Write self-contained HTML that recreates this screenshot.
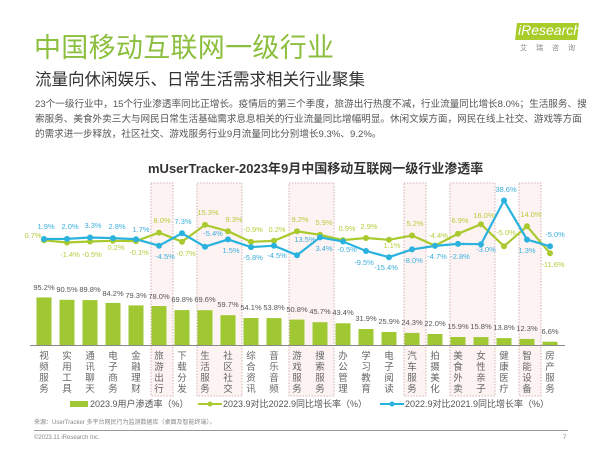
<!DOCTYPE html>
<html><head><meta charset="utf-8">
<style>
html,body{margin:0;padding:0;background:#fff;}
body{width:600px;height:449px;position:relative;overflow:hidden;font-family:"Liberation Sans","Noto Sans CJK SC",sans-serif;}
.a{position:absolute;white-space:nowrap;}
</style></head><body>
<div class="a" style="left:34px;top:26px;font-size:27px;color:#8cbf3f;letter-spacing:0.3px;">中国移动互联网一级行业</div>
<div class="a" style="left:35px;top:66px;font-size:16.5px;color:#333;">流量向休闲娱乐、日常生活需求相关行业聚集</div>
<div class="a" style="left:35px;top:97px;font-size:9.6px;color:#555;line-height:15px;">23个一级行业中，15个行业渗透率同比正增长。疫情后的第三个季度，旅游出行热度不减，行业流量同比增长8.0%；生活服务、搜<br>索服务、美食外卖三大与网民日常生活基础需求息息相关的行业流量同比增幅明显。休闲文娱方面，网民在线上社交、游戏等方面<br>的需求进一步释放，社区社交、游戏服务行业9月流量同比分别增长9.3%、9.2%。</div>
<div class="a" style="left:516px;top:23px;width:62px;height:17px;background:#a8cc2a;transform:skewX(-6deg);"></div>
<div class="a" style="left:518px;top:22px;font-size:14px;color:#fff;font-style:italic;">iResearch</div>
<div class="a" style="left:520px;top:43px;font-size:7px;color:#888;letter-spacing:9px;">艾瑞咨询</div>
<div class="a" style="left:148px;top:158px;font-size:13px;font-weight:bold;color:#333;">mUserTracker-2023年9月中国移动互联网一级行业渗透率</div>

<svg class="a" style="left:0;top:0" width="600" height="449" xmlns="http://www.w3.org/2000/svg">
<g fill="#fdf3f3" stroke="#c9a0a0" stroke-width="0.8" stroke-dasharray="1.5,1.5">
<rect x="151" y="183" width="22" height="213"/>
<rect x="197" y="183" width="45" height="213"/>
<rect x="289" y="183" width="45" height="213"/>
<rect x="404" y="183" width="22" height="213"/>
<rect x="450" y="183" width="45" height="213"/>
<rect x="519" y="183" width="22" height="213"/>
</g>
<g fill="#9fc832">
<rect x="36.5" y="297.4" width="15" height="47.6"/><rect x="59.5" y="299.8" width="15" height="45.2"/>
<rect x="82.5" y="300.1" width="15" height="44.9"/><rect x="105.5" y="302.9" width="15" height="42.1"/>
<rect x="128.5" y="305.4" width="15" height="39.6"/><rect x="151.5" y="306" width="15" height="39"/>
<rect x="174.5" y="310.1" width="15" height="34.9"/><rect x="197.5" y="310.2" width="15" height="34.8"/>
<rect x="220.5" y="315.2" width="15" height="29.8"/><rect x="243.5" y="318" width="15" height="27"/>
<rect x="266.5" y="318.1" width="15" height="26.9"/><rect x="289.5" y="319.6" width="15" height="25.4"/>
<rect x="312.5" y="322.2" width="15" height="22.8"/><rect x="335.5" y="323.3" width="15" height="21.7"/>
<rect x="358.5" y="329" width="15" height="16"/><rect x="381.5" y="332" width="15" height="13"/>
<rect x="404.5" y="332.9" width="15" height="12.1"/><rect x="427.5" y="334" width="15" height="11"/>
<rect x="450.5" y="337" width="15" height="8"/><rect x="473.5" y="337.1" width="15" height="7.9"/>
<rect x="496.5" y="338.1" width="15" height="6.9"/><rect x="519.5" y="338.9" width="15" height="6.1"/>
<rect x="542.5" y="341.7" width="15" height="3.3"/>
</g>
<line x1="30" y1="345.5" x2="565" y2="345.5" stroke="#888" stroke-width="1"/>
<g font-size="7.5" fill="#555" text-anchor="middle" font-family="Liberation Sans,sans-serif">
<text x="44" y="290">95.2%</text><text x="67" y="292">90.5%</text><text x="90" y="292">89.8%</text>
<text x="113" y="296">84.2%</text><text x="136" y="298">79.3%</text><text x="159" y="299">78.0%</text>
<text x="182" y="302">69.8%</text><text x="205" y="302">69.6%</text><text x="228" y="307">59.7%</text>
<text x="251" y="310">54.1%</text><text x="274" y="310">53.8%</text><text x="297" y="312">50.8%</text>
<text x="320" y="314">45.7%</text><text x="343" y="315">43.4%</text><text x="366" y="321">31.9%</text>
<text x="389" y="324">25.9%</text><text x="412" y="325">24.3%</text><text x="435" y="326">22.0%</text>
<text x="458" y="329">15.9%</text><text x="481" y="329">15.8%</text><text x="504" y="330">13.8%</text>
<text x="527" y="331">12.3%</text><text x="550" y="334">6.6%</text>
</g>
<polyline fill="none" stroke="#a9c92e" stroke-width="2.2" points="44,240.3 67,242.5 90,241.5 113,240.8 136,241.1 159,232.6 182,241.7 205,224.9 228,231.2 251,241.9 274,240.8 297,231.3 320,234.8 343,240.1 366,238 389,239.8 412,235.5 435,245.6 458,233.8 481,224.2 504,246.3 527,226.3 550,253.2"/>
<polyline fill="none" stroke="#2ab2de" stroke-width="2.2" points="44,239 67,238.9 90,237.5 113,238.1 136,239.2 159,245.7 182,233.3 205,246.7 228,239.4 251,247.1 274,245.7 297,255.2 320,237.4 343,241.5 366,251 389,257.2 412,249.4 435,245.9 458,243.9 481,244.2 504,200.5 527,239.6 550,246.3"/>
<g fill="#a9c92e">
<circle cx="44" cy="240.3" r="3"/><circle cx="67" cy="242.5" r="3"/><circle cx="90" cy="241.5" r="3"/><circle cx="113" cy="240.8" r="3"/><circle cx="136" cy="241.1" r="3"/><circle cx="159" cy="232.6" r="3"/><circle cx="182" cy="241.7" r="3"/><circle cx="205" cy="224.9" r="3"/><circle cx="228" cy="231.2" r="3"/><circle cx="251" cy="241.9" r="3"/><circle cx="274" cy="240.8" r="3"/><circle cx="297" cy="231.3" r="3"/><circle cx="320" cy="234.8" r="3"/><circle cx="343" cy="240.1" r="3"/><circle cx="366" cy="238" r="3"/><circle cx="389" cy="239.8" r="3"/><circle cx="412" cy="235.5" r="3"/><circle cx="435" cy="245.6" r="3"/><circle cx="458" cy="233.8" r="3"/><circle cx="481" cy="224.2" r="3"/><circle cx="504" cy="246.3" r="3"/><circle cx="527" cy="226.3" r="3"/><circle cx="550" cy="253.2" r="3"/>
</g>
<g fill="#2ab2de">
<circle cx="44" cy="239" r="3"/><circle cx="67" cy="238.9" r="3"/><circle cx="90" cy="237.5" r="3"/><circle cx="113" cy="238.1" r="3"/><circle cx="136" cy="239.2" r="3"/><circle cx="159" cy="245.7" r="3"/><circle cx="182" cy="233.3" r="3"/><circle cx="205" cy="246.7" r="3"/><circle cx="228" cy="239.4" r="3"/><circle cx="251" cy="247.1" r="3"/><circle cx="274" cy="245.7" r="3"/><circle cx="297" cy="255.2" r="3"/><circle cx="320" cy="237.4" r="3"/><circle cx="343" cy="241.5" r="3"/><circle cx="366" cy="251" r="3"/><circle cx="389" cy="257.2" r="3"/><circle cx="412" cy="249.4" r="3"/><circle cx="435" cy="245.9" r="3"/><circle cx="458" cy="243.9" r="3"/><circle cx="481" cy="244.2" r="3"/><circle cx="504" cy="200.5" r="3"/><circle cx="527" cy="239.6" r="3"/><circle cx="550" cy="246.3" r="3"/>
</g>
<g font-size="7.5" fill="#b7cc3c" text-anchor="middle" font-family="Liberation Sans,sans-serif">
<text x="33" y="238">0.7%</text><text x="70" y="257">-1.4%</text><text x="92" y="257">-0.5%</text><text x="116" y="250">0.2%</text><text x="139" y="255">-0.1%</text>
<text x="162" y="223">8.0%</text><text x="186" y="256">-0.7%</text><text x="208" y="215">15.3%</text><text x="234" y="222">9.3%</text><text x="253" y="232">-0.9%</text><text x="277" y="232">0.2%</text>
<text x="300" y="222">9.2%</text><text x="324" y="225">5.9%</text><text x="347" y="231">0.9%</text><text x="369" y="229">2.9%</text><text x="392" y="248">1.1%</text><text x="415" y="226">5.2%</text><text x="438" y="238">-4.4%</text>
<text x="460" y="223">6.9%</text><text x="484" y="218">16.0%</text><text x="506" y="235">-5.0%</text><text x="531" y="217">14.0%</text><text x="553" y="267">-11.6%</text>
</g>
<g font-size="7.5" fill="#3aaedb" text-anchor="middle" font-family="Liberation Sans,sans-serif">
<text x="46" y="229">1.9%</text><text x="70" y="229">2.0%</text><text x="93" y="228">3.3%</text><text x="117" y="229">2.8%</text><text x="141" y="232">1.7%</text>
<text x="165" y="259">-4.5%</text><text x="183" y="224">7.3%</text><text x="213" y="236">-5.4%</text><text x="231" y="253">1.5%</text><text x="253" y="260">-5.8%</text><text x="277" y="258">-4.5%</text>
<text x="305" y="242">13.5%</text><text x="324" y="251">3.4%</text><text x="347" y="252">-0.5%</text><text x="364" y="265">-9.5%</text><text x="386" y="270">-15.4%</text><text x="413" y="263">-8.0%</text><text x="437" y="259">-4.7%</text>
<text x="460" y="259">-2.8%</text><text x="486" y="252">-3.0%</text><text x="506" y="192">38.6%</text><text x="527" y="253">1.3%</text><text x="555" y="237">-5.0%</text>
</g>
<g font-size="9.5" fill="#666" text-anchor="middle" font-family="Noto Sans CJK SC,sans-serif">
<text x="44" y="359"><tspan x="44">视</tspan><tspan x="44" dy="11">频</tspan><tspan x="44" dy="11">服</tspan><tspan x="44" dy="11">务</tspan></text>
<text x="67" y="359"><tspan x="67">实</tspan><tspan x="67" dy="11">用</tspan><tspan x="67" dy="11">工</tspan><tspan x="67" dy="11">具</tspan></text>
<text x="90" y="359"><tspan x="90">通</tspan><tspan x="90" dy="11">讯</tspan><tspan x="90" dy="11">聊</tspan><tspan x="90" dy="11">天</tspan></text>
<text x="113" y="359"><tspan x="113">电</tspan><tspan x="113" dy="11">子</tspan><tspan x="113" dy="11">商</tspan><tspan x="113" dy="11">务</tspan></text>
<text x="136" y="359"><tspan x="136">金</tspan><tspan x="136" dy="11">融</tspan><tspan x="136" dy="11">理</tspan><tspan x="136" dy="11">财</tspan></text>
<text x="159" y="359"><tspan x="159">旅</tspan><tspan x="159" dy="11">游</tspan><tspan x="159" dy="11">出</tspan><tspan x="159" dy="11">行</tspan></text>
<text x="182" y="359"><tspan x="182">下</tspan><tspan x="182" dy="11">载</tspan><tspan x="182" dy="11">分</tspan><tspan x="182" dy="11">发</tspan></text>
<text x="205" y="359"><tspan x="205">生</tspan><tspan x="205" dy="11">活</tspan><tspan x="205" dy="11">服</tspan><tspan x="205" dy="11">务</tspan></text>
<text x="228" y="359"><tspan x="228">社</tspan><tspan x="228" dy="11">区</tspan><tspan x="228" dy="11">社</tspan><tspan x="228" dy="11">交</tspan></text>
<text x="251" y="359"><tspan x="251">综</tspan><tspan x="251" dy="11">合</tspan><tspan x="251" dy="11">资</tspan><tspan x="251" dy="11">讯</tspan></text>
<text x="274" y="359"><tspan x="274">音</tspan><tspan x="274" dy="11">乐</tspan><tspan x="274" dy="11">音</tspan><tspan x="274" dy="11">频</tspan></text>
<text x="297" y="359"><tspan x="297">游</tspan><tspan x="297" dy="11">戏</tspan><tspan x="297" dy="11">服</tspan><tspan x="297" dy="11">务</tspan></text>
<text x="320" y="359"><tspan x="320">搜</tspan><tspan x="320" dy="11">索</tspan><tspan x="320" dy="11">服</tspan><tspan x="320" dy="11">务</tspan></text>
<text x="343" y="359"><tspan x="343">办</tspan><tspan x="343" dy="11">公</tspan><tspan x="343" dy="11">管</tspan><tspan x="343" dy="11">理</tspan></text>
<text x="366" y="359"><tspan x="366">学</tspan><tspan x="366" dy="11">习</tspan><tspan x="366" dy="11">教</tspan><tspan x="366" dy="11">育</tspan></text>
<text x="389" y="359"><tspan x="389">电</tspan><tspan x="389" dy="11">子</tspan><tspan x="389" dy="11">阅</tspan><tspan x="389" dy="11">读</tspan></text>
<text x="412" y="359"><tspan x="412">汽</tspan><tspan x="412" dy="11">车</tspan><tspan x="412" dy="11">服</tspan><tspan x="412" dy="11">务</tspan></text>
<text x="435" y="359"><tspan x="435">拍</tspan><tspan x="435" dy="11">摄</tspan><tspan x="435" dy="11">美</tspan><tspan x="435" dy="11">化</tspan></text>
<text x="458" y="359"><tspan x="458">美</tspan><tspan x="458" dy="11">食</tspan><tspan x="458" dy="11">外</tspan><tspan x="458" dy="11">卖</tspan></text>
<text x="481" y="359"><tspan x="481">女</tspan><tspan x="481" dy="11">性</tspan><tspan x="481" dy="11">亲</tspan><tspan x="481" dy="11">子</tspan></text>
<text x="504" y="359"><tspan x="504">健</tspan><tspan x="504" dy="11">康</tspan><tspan x="504" dy="11">医</tspan><tspan x="504" dy="11">疗</tspan></text>
<text x="527" y="359"><tspan x="527">智</tspan><tspan x="527" dy="11">能</tspan><tspan x="527" dy="11">设</tspan><tspan x="527" dy="11">备</tspan></text>
<text x="550" y="359"><tspan x="550">房</tspan><tspan x="550" dy="11">产</tspan><tspan x="550" dy="11">服</tspan><tspan x="550" dy="11">务</tspan></text>
</g>
<rect x="70" y="401" width="18" height="6" fill="#9fc832"/>
<text x="90" y="407" font-size="9" fill="#555">2023.9用户渗透率（%）</text>
<line x1="198" y1="404" x2="222" y2="404" stroke="#a9c92e" stroke-width="2"/><circle cx="210" cy="404" r="2.5" fill="#a9c92e"/>
<text x="223" y="407" font-size="9" fill="#555">2023.9对比2022.9同比增长率（%）</text>
<line x1="380" y1="404" x2="404" y2="404" stroke="#2ab2de" stroke-width="2"/><circle cx="392" cy="404" r="2.5" fill="#2ab2de"/>
<text x="405" y="407" font-size="9" fill="#555">2022.9对比2021.9同比增长率（%）</text>
<text x="34" y="424" font-size="6" fill="#888">来源：UserTracker 多平台网民行为监测数据库（桌面及智能终端）。</text>
<line x1="34" y1="430.5" x2="568" y2="430.5" stroke="#777" stroke-width="0.8"/>
<text x="34" y="439" font-size="6" fill="#888">©2023.11 iResearch Inc.</text>
<text x="563" y="439" font-size="6" fill="#888">7</text>
</svg>
</body></html>
